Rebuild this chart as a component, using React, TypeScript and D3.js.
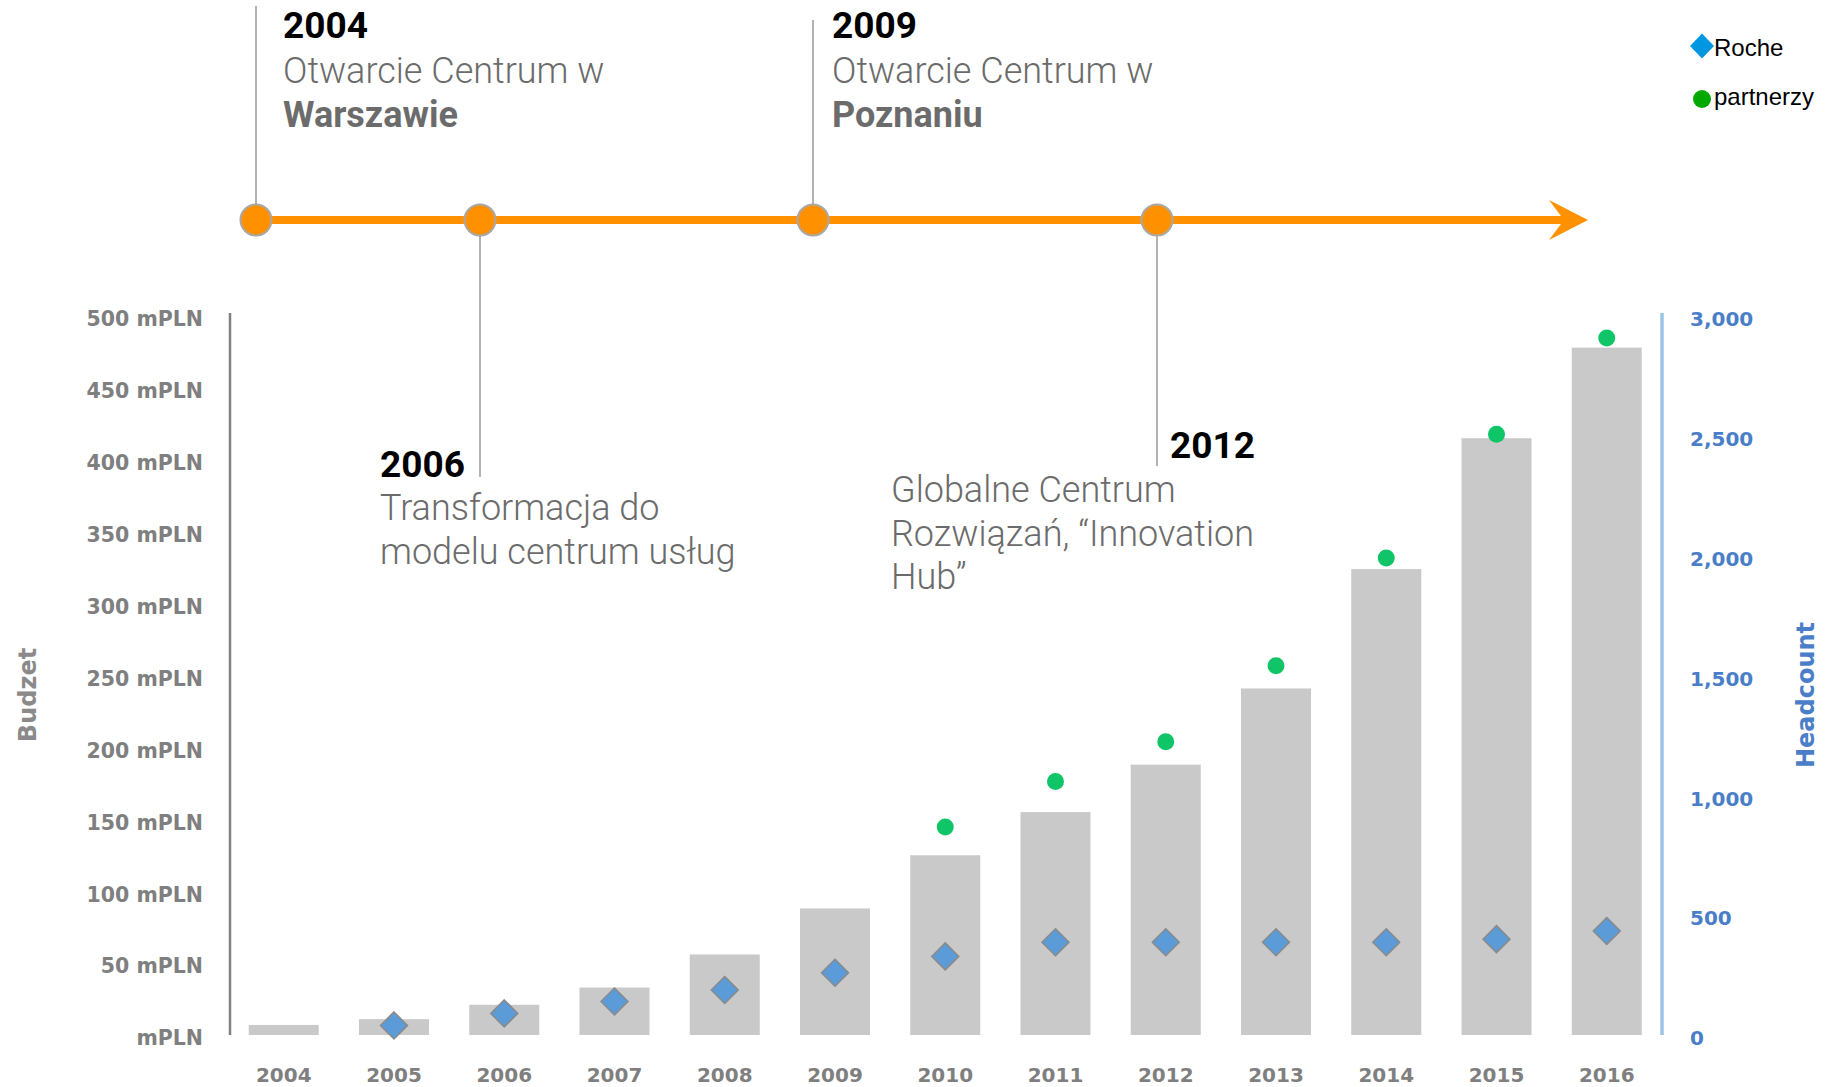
import * as d3 from 'd3';

const years = ['2004', '2005', '2006', '2007', '2008', '2009', '2010', '2011', '2012', '2013', '2014', '2015', '2016'];
const budget = [7, 11, 21, 33, 56, 88, 125, 155, 188, 241, 324, 415, 478];
const rocheHeadcount = [null, 40, 90, 140, 188, 260, 328, 387, 387, 387, 387, 400, 434];
const partnerHeadcount = [null, null, null, null, null, null, 868, 1058, 1224, 1541, 1990, 2507, 2908];
const budgetTicks = [0, 50, 100, 150, 200, 250, 300, 350, 400, 450, 500];
const headcountTicks = [0, 500, 1000, 1500, 2000, 2500, 3000];

const milestoneYears = [2004, 2006, 2009, 2012];
const milestoneLines = [
  [{ t: 'Otwarcie Centrum w' }, { t: 'Warszawie', bold: true }],
  [{ t: 'Transformacja do' }, { t: 'modelu centrum usług' }],
  [{ t: 'Otwarcie Centrum w' }, { t: 'Poznaniu', bold: true }],
  [{ t: 'Globalne Centrum' }, { t: 'Rozwiązań, “Innovation' }, { t: 'Hub”' }],
];

const W = 1831;
const H = 1087;
const TL_Y = 220;
const GREY_TEXT = '#6b6b6b';
const AXIS_FONT = '"DejaVu Sans", sans-serif';
const NOTE_FONT = 'Roboto, "Liberation Sans", sans-serif';

// where each milestone's text sits, relative to the timeline
const layout = [
  { lineTop: 6, lineBottom: TL_Y, yearX: 283, yearY: 38, textX: 283, textY: 83 },
  { lineTop: TL_Y, lineBottom: 477, yearX: 380, yearY: 477, textX: 380, textY: 520 },
  { lineTop: 20, lineBottom: TL_Y, yearX: 832, yearY: 38, textX: 832, textY: 83 },
  { lineTop: TL_Y, lineBottom: 466, yearX: 1170, yearY: 458, textX: 891, textY: 502 },
];

export default function App() {
  const x = d3.scaleBand<string>().domain(years).range([230, 1660.5]).paddingInner(0.365).paddingOuter(0.17);
  const yL = d3.scaleLinear().domain([0, 500]).range([1035, 316]);
  const yR = d3.scaleLinear().domain([0, 3000]).range([1035, 316]);
  // timeline is not evenly spaced in the original
  const tl = d3.scaleLinear().domain([2004, 2006, 2009, 2012]).range([256, 480, 813, 1157]);
  const fmt = d3.format(',');
  const cx = (y: string) => (x(y) ?? 0) + x.bandwidth() / 2;

  const arrowTip = 1588;
  const diamond = (r: number, ry = r) => `M0,${-ry}L${r},0L0,${ry}L${-r},0Z`;

  return (
    <div style={{ position: 'fixed', left: 0, top: 0 }}>
      <svg width={W} height={H} style={{ display: 'block', background: '#fff' }}>
        {/* bars */}
        {years.map((yr, i) => (
          <rect key={yr} x={x(yr)} y={yL(budget[i])} width={x.bandwidth()} height={yL(0) - yL(budget[i])} fill="#c9c9c9" />
        ))}

        {/* axes */}
        <line x1={230} x2={230} y1={313} y2={1035} stroke="#808080" strokeWidth={2.5} />
        <line x1={1662} x2={1662} y1={313} y2={1035} stroke="#9dc3e6" strokeWidth={3.5} />
        {budgetTicks.map((t) => (
          <text key={t} x={203} y={yL(t) + 3} dy="0.36em" textAnchor="end" fontFamily={AXIS_FONT} fontWeight="bold" fontSize={20.5} fill="#7f7f7f">
            {t === 0 ? 'mPLN' : `${t} mPLN`}
          </text>
        ))}
        {headcountTicks.map((t) => (
          <text key={t} x={1690} y={yR(t) + 3} dy="0.36em" fontFamily={AXIS_FONT} fontWeight="bold" fontSize={20} fill="#4a7ec8">
            {fmt(t)}
          </text>
        ))}
        {years.map((yr) => (
          <text key={yr} x={cx(yr)} y={1075} dy="0.36em" textAnchor="middle" fontFamily={AXIS_FONT} fontWeight="bold" fontSize={20} fill="#7f7f7f">
            {yr}
          </text>
        ))}
        <text transform="translate(27,695) rotate(-90)" dy="0.36em" textAnchor="middle" fontFamily={AXIS_FONT} fontWeight="bold" fontSize={24} fill="#8a8a8a">
          Budzet
        </text>
        <text transform="translate(1805,695) rotate(-90)" dy="0.36em" textAnchor="middle" fontFamily={AXIS_FONT} fontWeight="bold" fontSize={24} fill="#4a7ec8">
          Headcount
        </text>

        {/* headcount markers */}
        {years.map((yr, i) =>
          rocheHeadcount[i] == null ? null : (
            <path key={yr} d={diamond(13.5)} transform={`translate(${cx(yr)},${yR(rocheHeadcount[i] as number)})`} fill="#5b9bd8" stroke="#8a8a8a" strokeWidth={1.5} />
          )
        )}
        {years.map((yr, i) =>
          partnerHeadcount[i] == null ? null : (
            <circle key={yr} cx={cx(yr)} cy={yR(partnerHeadcount[i] as number)} r={8.5} fill="#10c468" />
          )
        )}

        {/* timeline */}
        <line x1={tl(2004)} x2={arrowTip - 24} y1={TL_Y} y2={TL_Y} stroke="#ff9100" strokeWidth={8} />
        <path d={`M${arrowTip},${TL_Y}L${arrowTip - 39},${TL_Y - 20}L${arrowTip - 24},${TL_Y}L${arrowTip - 39},${TL_Y + 20}Z`} fill="#ff9100" />
        {milestoneYears.map((yr, i) => {
          const L = layout[i];
          const px = tl(yr);
          return (
            <g key={yr}>
              <line x1={px} x2={px} y1={L.lineTop} y2={L.lineBottom} stroke="#b3b3b3" strokeWidth={2} />
              <circle cx={px} cy={TL_Y} r={15.5} fill="#ff9100" stroke="#a8a8a8" strokeWidth={2} />
              <text x={L.yearX} y={L.yearY} fontFamily={NOTE_FONT} fontWeight="bold" fontSize={37} fill="#000">
                {yr}
              </text>
              {milestoneLines[i].map((ln, j) => (
                <text key={j} x={L.textX} y={L.textY + j * 43.5} fontFamily={NOTE_FONT} fontWeight={ln.bold ? 'bold' : 300} fontSize={36} fill={GREY_TEXT}>
                  {ln.t}
                </text>
              ))}
            </g>
          );
        })}

        {/* legend */}
        <path d={diamond(12, 12.5)} transform="translate(1702,46)" fill="#0096e2" />
        <text x={1714} y={56} fontFamily='"Liberation Sans", Arial, sans-serif' fontSize={24} fill="#000">Roche</text>
        <circle cx={1702} cy={99} r={9} fill="#00a800" />
        <text x={1714} y={105} fontFamily='"Liberation Sans", Arial, sans-serif' fontSize={24} fill="#000">partnerzy</text>
      </svg>
    </div>
  );
}
